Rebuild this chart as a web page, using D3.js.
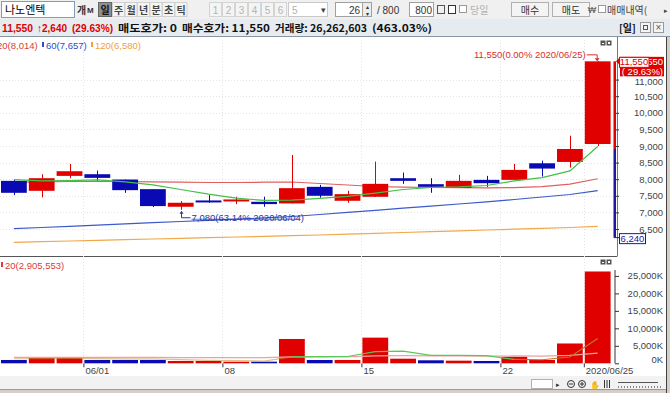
<!DOCTYPE html>
<meta charset="utf-8">
<style>
    body {
        margin: 0;
        background-color: #d4d0c8;
    }
    svg {
        display: block;
        font-family: "Liberation Sans", Arial, sans-serif;
    }
    .axis text {
        font-size: 9.5px;
        fill: #444;
    }
    .axis line {
        stroke: #333;
    }
    .axis path {
        stroke: #333;
    }
    .grid line {
        stroke: #e4e4e4;
        stroke-dasharray: 1,2;
    }
    .ma {
        fill: none;
        stroke-width: 1.2px;
    }
    .kr {
        font-family: "Noto Sans CJK KR", "DejaVu Sans", sans-serif;
    }
</style>
<body>
<svg width="670" height="393"></svg>
<script src="https://cdn.jsdelivr.net/npm/d3@7"></script>
<script>
    // daily candles, 2020/05/27 - 2020/06/25
    var dates  = ["05/27","05/28","05/29","06/01","06/02","06/03","06/04","06/05","06/08","06/09","06/10",
                  "06/11","06/12","06/15","06/16","06/17","06/18","06/19","06/22","06/23","06/24","06/25"];
    var opens  = [7950, 7650, 8100, 8150, 7990, 7700, 7170, 7360, 7340, 7320, 7270,
                  7770, 7350, 7470, 8030, 7850, 7740, 7980, 7980, 8480, 8520, 9060];
    var highs  = [7990, 8150, 8460, 8260, 7990, 7700, 7340, 7520, 7470, 7470, 8730,
                  7830, 7650, 8530, 8200, 8030, 8130, 8100, 8460, 8560, 9310, 11550];
    var lows   = [7520, 7450, 8030, 7950, 7590, 7160, 7080, 7290, 7250, 7170, 7270,
                  7440, 7290, 7470, 7860, 7590, 7740, 7770, 7980, 8080, 8350, 9000];
    var closes = [7590, 8030, 8240, 8040, 7670, 7190, 7290, 7320, 7390, 7250, 7730,
                  7500, 7550, 7860, 7950, 7770, 7950, 7880, 8280, 8320, 8910, 11550];

    var ma5   = [7990, 7950, 7960, 7980, 7920, 7830, 7690, 7550, 7430, 7360, 7370,
                 7420, 7480, 7580, 7690, 7750, 7770, 7810, 7950, 8050, 8250, 8986];
    var ma20  = [7910, 7920, 7930, 7930, 7930, 7920, 7910, 7900, 7900, 7910, 7915,
                 7870, 7825, 7780, 7760, 7750, 7745, 7740, 7745, 7775, 7850, 8014];
    var ma60  = [6509, 6545, 6581, 6617, 6654, 6690, 6726, 6762, 6798, 6834, 6877,
                 6937, 7000, 7063, 7127, 7190, 7253, 7316, 7389, 7464, 7539, 7657];
    var ma120 = [6096, 6117, 6139, 6157, 6178, 6199, 6217, 6238, 6259, 6277, 6298,
                 6319, 6343, 6370, 6395, 6419, 6446, 6470, 6494, 6521, 6545, 6580];

    // volume in thousands of shares
    var volumes  = [950, 1720, 1720, 950, 950, 950, 660, 660, 460, 460, 6960,
                    945, 945, 7340, 1320, 860, 750, 660, 1890, 945, 5672, 26263];
    var volMa5   = [1300, 1350, 1400, 1350, 1260, 1260, 1050, 830, 740, 640, 1840,
                    1900, 1950, 3330, 3500, 2280, 2240, 2190, 1100, 1020, 1800, 7100];
    var volMa20  = [1700, 1700, 1700, 1700, 1700, 1700, 1650, 1650, 1600, 1600, 1850,
                    1850, 1850, 2150, 2200, 2150, 2100, 2050, 2100, 2050, 2250, 2906];

    var priceTicks = [6500, 7000, 7500, 8000, 8500, 9000, 9500, 10000, 10500, 11000];
    var volTicks = [0, 5000, 10000, 15000, 20000, 25000];
    var dateTicks = ["06/01", "06/08", "06/15", "06/22", "06/25"];
    var dateTickLabels = ["06/01", "08", "15", "22", "2020/06/25"];

    var prevClose = 8910, upperLimit = 11550, lowerLimit = 6240, lowPrice = 7080;

    var UP = "#e00000", DOWN = "#0a0ab4";

    var svg = d3.select("svg");

    var step = 27.8;
    var x = d3.scaleLinear().domain([0, dates.length]).range([0, dates.length * step]);
    var y = d3.scaleLinear().domain([6500, 9000]).range([229, 146]);
    var yv = d3.scaleLinear().domain([0, 25000]).range([363.3, 275.9]);

    function txt(g, px, py, s, size, color, anchor, cls) {
        return g.append("text").attr("x", px).attr("y", py).text(s)
            .attr("font-size", size).attr("fill", color)
            .attr("text-anchor", anchor || "start").attr("class", cls || null);
    }

    // ---- toolbar ----
    var tb = svg.append("g");
    tb.append("rect").attr("width", 670).attr("height", 19).attr("fill", "#f0f0f0");
    tb.append("rect").attr("x", 1.5).attr("y", 1.5).attr("width", 73).attr("height", 16)
        .attr("fill", "#fff").attr("stroke", "#7f9db9");
    txt(tb, 5, 13.5, "나노엔텍", "11px", "#000", "start", "kr");
    txt(tb, 77, 13.5, "개", "10px", "#333", "start", "kr").attr("font-weight", "bold");
    txt(tb, 87, 13, "M", "8px", "#333").attr("font-weight", "bold");
    tb.append("rect").attr("x", 98.5).attr("y", 2.5).attr("width", 13).attr("height", 14)
        .attr("fill", "#8f8f8f").attr("stroke", "#666");
    txt(tb, 105, 13.5, "일", "10px", "#111", "middle", "kr").attr("font-weight", "bold");
    ["주", "월", "년", "분", "초", "틱"].forEach(function (s, i) {
        tb.append("rect").attr("x", 112.5 + i * 12.5).attr("y", 2.5).attr("width", 12).attr("height", 14)
            .attr("fill", "#f4f4f4").attr("stroke", "#d0d0d0");
        txt(tb, 118.5 + i * 12.5, 13.5, s, "10px", "#444", "middle", "kr").attr("font-weight", "bold");
    });
    ["1", "2", "3", "4", "5", "6"].forEach(function (s, i) {
        tb.append("rect").attr("x", 209.5 + i * 13).attr("y", 2.5).attr("width", 12).attr("height", 14)
            .attr("fill", "#f4f4f4").attr("stroke", "#d4d4d4");
        txt(tb, 215.5 + i * 13, 13.5, s, "10px", "#b4b4b4", "middle");
    });
    tb.append("rect").attr("x", 288.5).attr("y", 2.5).attr("width", 39).attr("height", 14)
        .attr("fill", "#fff").attr("stroke", "#c8c8c8");
    txt(tb, 292, 13.5, "5", "10px", "#b0b0b0");
    txt(tb, 323, 13, "▾", "9px", "#444", "middle");
    tb.append("rect").attr("x", 335.5).attr("y", 2.5).attr("width", 27).attr("height", 14)
        .attr("fill", "#fff").attr("stroke", "#a0a0a0");
    txt(tb, 360, 13.5, "26", "10px", "#333", "end");
    tb.append("rect").attr("x", 362.5).attr("y", 2.5).attr("width", 9).attr("height", 14)
        .attr("fill", "#ececec").attr("stroke", "#a0a0a0");
    txt(tb, 367, 8.5, "▴", "6px", "#333", "middle");
    txt(tb, 367, 15.5, "▾", "6px", "#333", "middle");
    txt(tb, 377, 13.5, "/ 800", "10px", "#333");
    tb.append("rect").attr("x", 409.5).attr("y", 2.5).attr("width", 24).attr("height", 14)
        .attr("fill", "#fff").attr("stroke", "#a0a0a0");
    txt(tb, 432, 13.5, "800", "10px", "#333", "end");
    tb.append("rect").attr("x", 437.5).attr("y", 5.5).attr("width", 7).attr("height", 8)
        .attr("fill", "none").attr("stroke", "#555");
    tb.append("rect").attr("x", 448.5).attr("y", 5.5).attr("width", 7).attr("height", 8)
        .attr("fill", "#fff").attr("stroke", "#333");
    tb.append("rect").attr("x", 459.5).attr("y", 5.5).attr("width", 7).attr("height", 7)
        .attr("fill", "#fff").attr("stroke", "#999");
    txt(tb, 470, 13.5, "당일", "10px", "#b0b0b0", "start", "kr");
    [["매수", 511.5], ["매도", 552.5]].forEach(function (b) {
        tb.append("rect").attr("x", b[1]).attr("y", 2.5).attr("width", 37).attr("height", 14)
            .attr("fill", "#f4f4f4").attr("stroke", "#b0b0b0");
        txt(tb, b[1] + 18.5, 13.5, b[0], "10px", "#333", "middle", "kr");
    });
    txt(tb, 592, 13, "₩", "9px", "#555", "middle");
    tb.append("rect").attr("x", 598.5).attr("y", 5.5).attr("width", 7).attr("height", 7)
        .attr("fill", "#fff").attr("stroke", "#999");
    txt(tb, 607, 13.5, "매매내역(", "10px", "#444", "start", "kr");
    txt(tb, 666, 13, "▸", "7px", "#444", "middle");

    // ---- quote row ----
    var qr = svg.append("g");
    qr.append("rect").attr("y", 19).attr("width", 670).attr("height", 17).attr("fill", "#e6ebf0");
    qr.append("line").attr("x1", 0).attr("x2", 670).attr("y1", 36.5).attr("y2", 36.5).attr("stroke", "#8a96a4");
    [[2, 31, "11,550", UP, "sans-serif"], [37, 30, "↑2,640", UP, "'Liberation Sans', sans-serif"],
     [72, 41, "(29.63%)", UP, "sans-serif"],
     [118, 59, "매도호가: 0", "#111"], [182, 88, "매수호가: 11,550", "#111"],
     [275, 92, "거래량: 26,262,603", "#111"], [372, 60, "(463.03%)", "#111"]].forEach(function (s) {
        qr.append("text").attr("x", s[0]).attr("y", 31.5).text(s[2])
            .attr("textLength", s[1]).attr("lengthAdjust", "spacingAndGlyphs")
            .attr("font-size", "10.5px").attr("font-weight", "bold").attr("fill", s[3])
            .attr("font-family", s[4] ? s[4] : "'Noto Sans CJK KR', 'DejaVu Sans', sans-serif");
    });
    txt(qr, 619, 31.5, "[일]", "10px", "#111", "start", "kr").attr("font-weight", "bold");
    qr.append("rect").attr("x", 640.5).attr("y", 22.5).attr("width", 10).attr("height", 10)
        .attr("fill", "#f4f4f4").attr("stroke", "#999");
    qr.append("rect").attr("x", 643.5).attr("y", 25.5).attr("width", 4).attr("height", 4)
        .attr("fill", "none").attr("stroke", "#555");
    qr.append("rect").attr("x", 653.5).attr("y", 22.5).attr("width", 10).attr("height", 10)
        .attr("fill", "#f4f4f4").attr("stroke", "#999");
    txt(qr, 658.5, 31, "×", "10px", "#555", "middle");

    // ---- chart frame ----
    svg.append("rect").attr("y", 37).attr("width", 666).attr("height", 339).attr("fill", "#fff");
    svg.append("line").attr("x1", 666.5).attr("x2", 666.5).attr("y1", 37).attr("y2", 393).attr("stroke", "#404040");
    svg.append("rect").attr("y", 376).attr("width", 666).attr("height", 14).attr("fill", "#f2f2f2");
    svg.append("line").attr("x1", 0).attr("x2", 666).attr("y1", 389.5).attr("y2", 389.5).attr("stroke", "#9a9a9a");
    svg.append("line").attr("x1", 0).attr("x2", 617).attr("y1", 256.5).attr("y2", 256.5).attr("stroke", "#555");
    svg.append("line").attr("x1", 617.5).attr("x2", 617.5).attr("y1", 37).attr("y2", 256.5).attr("stroke", "#777");

    var defs = svg.append("defs");
    defs.append("clipPath").attr("id", "clipP").append("rect")
        .attr("x", 0).attr("y", 37).attr("width", 613).attr("height", 219);
    defs.append("clipPath").attr("id", "clipV").append("rect")
        .attr("x", 0).attr("y", 257).attr("width", 613).attr("height", 107);

    // grid
    var grid = svg.append("g").attr("class", "grid");
    grid.selectAll(".gh").data(priceTicks).enter().append("line")
        .attr("x1", 0).attr("x2", 613).attr("y1", function (d) { return Math.round(y(d)) + 0.5; })
        .attr("y2", function (d) { return Math.round(y(d)) + 0.5; });
    grid.selectAll(".gv").data(dateTicks).enter().append("line")
        .attr("x1", function (d) { return Math.round(x(dates.indexOf(d))) + 0.5; })
        .attr("x2", function (d) { return Math.round(x(dates.indexOf(d))) + 0.5; })
        .attr("y1", 40).attr("y2", 363);

    // ---- price panel ----
    var pg = svg.append("g").attr("clip-path", "url(#clipP)");

    var maLine = function (arr) {
        return d3.line().x(function (d, i) { return x(i + 0.5); }).y(function (d) { return y(d); })(arr);
    };
    [[ma120, "#f0a848"], [ma60, "#3c5ac8"], [ma20, "#e06060"]].forEach(function (m) {
        pg.append("path").attr("class", "ma").attr("d", maLine(m[0])).attr("stroke", m[1]);
    });

    var candles = pg.selectAll(".candle").data(dates).enter().append("g").attr("class", "candle");
    candles.append("line")
        .attr("x1", function (d, i) { return Math.round(x(i + 0.5)) + 0.5; })
        .attr("x2", function (d, i) { return Math.round(x(i + 0.5)) + 0.5; })
        .attr("y1", function (d, i) { return y(highs[i]); })
        .attr("y2", function (d, i) { return y(lows[i]); })
        .attr("stroke", function (d, i) { return closes[i] >= opens[i] ? UP : DOWN; });
    candles.append("rect")
        .attr("x", function (d, i) { return x(i) + 1; })
        .attr("width", step - 2)
        .attr("y", function (d, i) { return y(Math.max(opens[i], closes[i])); })
        .attr("height", function (d, i) { return Math.max(2, y(Math.min(opens[i], closes[i])) - y(Math.max(opens[i], closes[i]))); })
        .attr("fill", function (d, i) { return closes[i] >= opens[i] ? UP : DOWN; });

    pg.append("path").attr("class", "ma").attr("d", maLine(ma5)).attr("stroke", "#46be46");

    // low / high markers
    var iLow = lows.indexOf(lowPrice);
    var lx = Math.round(x(iLow + 0.5)) + 0.5, ly = y(lowPrice);
    pg.append("path").attr("d", "M" + lx + "," + (ly + 8) + "V" + (ly + 3) + "M" + lx + "," + (ly + 8) + "H" + (lx + 9))
        .attr("stroke", "#2a3aa8").attr("fill", "none");
    pg.append("path").attr("d", "M" + (lx - 2) + "," + (ly + 4) + "L" + lx + "," + (ly + 1) + "L" + (lx + 2) + "," + (ly + 4) + "Z")
        .attr("fill", "#2a3aa8");
    txt(pg, lx + 10, ly + 11.5, "7,080(63.14% 2020/06/04)", "9.5px", "#2a3aa8");
    pg.append("line").attr("x1", lx + 10).attr("x2", lx + 118).attr("y1", ly + 9.5).attr("y2", ly + 9.5)
        .attr("stroke", "#2a3aa8").attr("stroke-width", 0.7);

    var iHigh = highs.indexOf(upperLimit);
    var hx = x(iHigh + 0.5) - 1, hy = y(upperLimit);
    txt(svg, hx - 11, hy - 3, "11,550(0.00% 2020/06/25)", "9.5px", "#d83030", "end");
    svg.append("path").attr("d", "M" + (hx - 10) + "," + (hy - 6.5) + "H" + (hx + 0.5) + "V" + (hy - 2))
        .attr("stroke", "#d83030").attr("fill", "none");
    svg.append("path").attr("d", "M" + (hx - 2) + "," + (hy - 3) + "L" + (hx + 0.5) + "," + hy + "L" + (hx + 3) + "," + (hy - 3) + "Z")
        .attr("fill", "#d83030");

    // legend
    txt(svg, -3, 48.5, "20(8,014)", "9.5px", "#d83c3c");
    svg.append("rect").attr("x", 42).attr("y", 42).attr("width", 2).attr("height", 5).attr("fill", "#2c4cc8");
    txt(svg, 46, 48.5, "60(7,657)", "9.5px", "#2c4cc8");
    svg.append("rect").attr("x", 91).attr("y", 42).attr("width", 2).attr("height", 5).attr("fill", "#f0a040");
    txt(svg, 95, 48.5, "120(6,580)", "9.5px", "#f0a040");
    [[600, 40], [600, 259]].forEach(function (p) {
        svg.append("rect").attr("x", p[0] + 0.5).attr("y", p[1] + 0.5).attr("width", 5).attr("height", 5).attr("fill", "#555");
        svg.append("rect").attr("x", p[0] + 6.5).attr("y", p[1] + 0.5).attr("width", 5).attr("height", 5).attr("fill", "#555");
        svg.append("rect").attr("x", p[0] + 2).attr("y", p[1] + 3).attr("width", 2).attr("height", 1).attr("fill", "#fff");
        svg.append("rect").attr("x", p[0] + 8).attr("y", p[1] + 2).attr("width", 2).attr("height", 2).attr("fill", "#fff");
    });

    // price axis
    var pAxis = svg.append("g").attr("class", "axis").attr("transform", "translate(615,0)")
        .call(d3.axisRight(y).tickValues(priceTicks).tickSize(4).tickFormat(d3.format(",")));
    pAxis.select(".domain").remove();
    pAxis.selectAll("text").attr("x", 48).attr("text-anchor", "end")
        .attr("dy", function (d) { return d === 11000 ? "0.5em" : "0.32em"; });

    svg.append("rect").attr("x", 613.5).attr("width", 2.5)
        .attr("y", y(upperLimit)).attr("height", y(prevClose) - y(upperLimit)).attr("fill", "#e00000");
    svg.append("rect").attr("x", 613.5).attr("width", 2.5)
        .attr("y", y(prevClose)).attr("height", y(lowerLimit) - y(prevClose)).attr("fill", "#1a1aa0");
    svg.append("line").attr("x1", 614).attr("x2", 619).attr("y1", y(lowerLimit)).attr("y2", y(lowerLimit)).attr("stroke", "#1a1aa0");
    svg.append("path").attr("d", "M616," + y(upperLimit) + "l3,-3v6z").attr("fill", "#e00000");

    // current price tag sits under the upper-limit tag; only its tail shows
    var cy = y(closes[closes.length - 1]);
    svg.append("rect").attr("x", 620).attr("y", cy - 4.5).attr("width", 44).attr("height", 19.5).attr("fill", "#e00000");
    txt(svg, 663, cy + 4, String(closes[closes.length - 1]).slice(-3), "9.5px", "#fff", "end");
    txt(svg, 663, cy + 13.5, "( 29.63%)", "9.5px", "#fff", "end");
    svg.append("rect").attr("x", 619.5).attr("y", cy - 4).attr("width", 29.5).attr("height", 10)
        .attr("fill", "#fff").attr("stroke", "#e00000");
    txt(svg, 634, cy + 4, d3.format(",")(upperLimit), "9.5px", "#e00000", "middle");
    var ly2 = y(lowerLimit);
    svg.append("rect").attr("x", 619.5).attr("y", ly2 - 4).attr("width", 26).attr("height", 10)
        .attr("fill", "#fff").attr("stroke", "#1a1aa0");
    txt(svg, 632.5, ly2 + 4, d3.format(",")(lowerLimit), "9.5px", "#1a1aa0", "middle");

    // ---- volume panel ----
    var vg = svg.append("g").attr("clip-path", "url(#clipV)");
    vg.selectAll(".vbar").data(volumes).enter().append("rect")
        .attr("x", function (d, i) { return x(i) + 1; })
        .attr("width", step - 2)
        .attr("y", function (d) { return yv(d); })
        .attr("height", function (d) { return yv(0) - yv(d); })
        .attr("fill", function (d, i) {
            var up = i > 0 ? closes[i] >= closes[i - 1] : closes[i] >= opens[i];
            return up ? UP : DOWN;
        });

    var vLine = d3.line().x(function (d) { return x(d + 0.5); });
    vg.append("path").attr("class", "ma").attr("stroke", "#f0a0a0")
        .attr("d", vLine.y(function (d) { return yv(volMa20[d]); })(d3.range(volMa20.length)));
    vg.append("path").attr("class", "ma").attr("stroke", "#c89a40").attr("stroke-opacity", 0.6)
        .attr("d", vLine.y(function (d) { return yv(volMa5[d]); })(d3.range(0, 11)));
    vg.append("path").attr("class", "ma").attr("stroke", "#5ac85a")
        .attr("d", vLine.y(function (d) { return yv(volMa5[d]); })(d3.range(10, 19)));
    vg.append("path").attr("class", "ma").attr("stroke", "#b8782a")
        .attr("d", vLine.y(function (d) { return yv(volMa5[d]); })(d3.range(18, 22)));

    svg.append("rect").attr("x", 1).attr("y", 262).attr("width", 2).attr("height", 5).attr("fill", "#d83c3c");
    txt(svg, 5, 268.5, "20(2,905,553)", "9.5px", "#d83c3c");

    var vAxis = svg.append("g").attr("class", "axis").attr("transform", "translate(615,0)")
        .call(d3.axisRight(yv).tickValues(volTicks).tickSize(4)
            .tickFormat(function (d) { return d3.format(",")(d) + "K"; }));
    vAxis.select(".domain").attr("d", "M0,270V363.3");
    vAxis.selectAll("text").attr("x", 48).attr("text-anchor", "end")
        .attr("dy", function (d) { return d === 0 ? "-0.1em" : "0.32em"; });

    // date axis
    var xAxis = svg.append("g").attr("class", "axis").attr("transform", "translate(0,363.3)")
        .call(d3.axisBottom(x).tickValues(dateTicks.map(function (d) { return dates.indexOf(d); }))
            .tickSize(4).tickFormat(function (d, i) { return dateTickLabels[i]; }));
    xAxis.select(".domain").remove();
    xAxis.selectAll("text").attr("text-anchor", "start").attr("dx", "1.5").attr("y", 3.5).attr("fill", "#555");
    xAxis.selectAll("line").attr("stroke", "#666");

    // ---- bottom controls ----
    var bc = svg.append("g");
    bc.append("rect").attr("x", 531.5).attr("y", 379.5).attr("width", 21).attr("height", 9)
        .attr("fill", "#fff").attr("stroke", "#b0b0b0");
    txt(bc, 558, 387, "▸", "7px", "#333", "middle");
    [571, 582].forEach(function (cx, i) {
        bc.append("circle").attr("cx", cx).attr("cy", 384).attr("r", 3.5).attr("fill", "none").attr("stroke", "#333");
        bc.append("line").attr("x1", cx - 2).attr("x2", cx + 2).attr("y1", 384).attr("y2", 384).attr("stroke", "#333");
        if (i === 1) bc.append("line").attr("x1", cx).attr("x2", cx).attr("y1", 382).attr("y2", 386).attr("stroke", "#333");
    });
    txt(bc, 595, 388, "✋", "8px", "#333", "middle");
    [604, 606.5, 609].forEach(function (lx3) {
        bc.append("line").attr("x1", lx3 + 0.5).attr("x2", lx3 + 0.5).attr("y1", 380).attr("y2", 388).attr("stroke", "#333");
    });
    bc.append("line").attr("x1", 618).attr("x2", 658).attr("y1", 382.5).attr("y2", 382.5).attr("stroke", "#555");
    d3.range(618, 661, 3).forEach(function (tx) {
        bc.append("line").attr("x1", tx + 0.5).attr("x2", tx + 0.5).attr("y1", 386).attr("y2", 388).attr("stroke", "#888");
    });
</script>
